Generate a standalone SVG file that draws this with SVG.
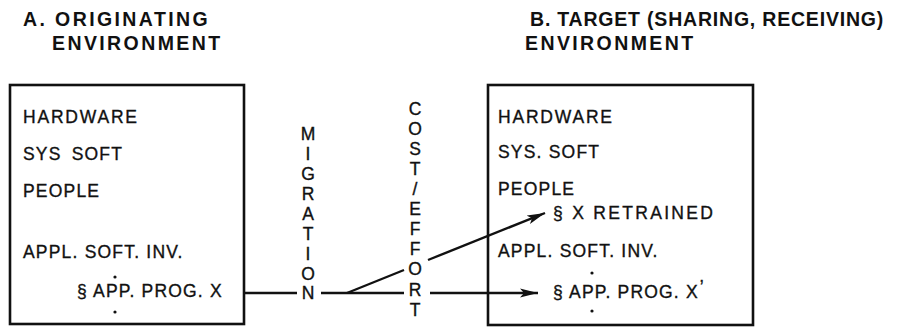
<svg xmlns="http://www.w3.org/2000/svg" width="911" height="328" viewBox="0 0 911 328">
<style>
  .title { font-family: "Liberation Sans", Arial, sans-serif; font-weight: bold; font-size: 19.5px; letter-spacing: 0.8px; fill: #111; }
  .wide { letter-spacing: 2.4px; }
  .body { font-family: "Liberation Sans", Arial, sans-serif; font-size: 17.5px; letter-spacing: 1.2px; fill: #111; stroke: #111; stroke-width: 0.35px; }
  .hw { letter-spacing: 1.8px; }
  .ret { letter-spacing: 2.3px; }
  .ws { word-spacing: 4px; }
  .vert { font-family: "Liberation Sans", Arial, sans-serif; font-size: 17.5px; fill: #111; stroke: #111; stroke-width: 0.35px; text-anchor: middle; }
  .box { fill: #fff; stroke: #111; stroke-width: 2.6; }
  .line { fill: none; stroke: #111; stroke-width: 2.4; }
  .dot { fill: #111; }
</style>
<defs>
  <marker id="arrow" markerUnits="userSpaceOnUse" markerWidth="20" markerHeight="12" refX="18" refY="5" orient="auto">
    <path d="M0,0.5 L18,5 L0,9.5 L4,5 Z" fill="#111"/>
  </marker>
</defs>
<rect width="911" height="328" fill="#fff"/>

<g id="title-a">
  <text class="title wide" x="23" y="26">A. ORIGINATING</text>
  <text class="title wide" x="52" y="50">ENVIRONMENT</text>
</g>
<g id="title-b">
  <text class="title" x="530" y="26">B. TARGET (SHARING, RECEIVING)</text>
  <text class="title wide" x="525" y="50">ENVIRONMENT</text>
</g>

<g id="originating">
  <rect class="box" x="10" y="85" width="234" height="239"/>
  <text class="body hw" x="23" y="123">HARDWARE</text>
  <text class="body ws" x="23" y="160">SYS SOFT</text>
  <text class="body" x="23" y="197">PEOPLE</text>
  <text class="body" x="23" y="258">APPL. SOFT. INV.</text>
  <circle class="dot" cx="115" cy="277" r="1.6"/>
  <text class="body" x="77" y="297">§ APP. PROG. X</text>
  <circle class="dot" cx="115" cy="312" r="1.6"/>
</g>

<g id="target">
  <rect class="box" x="488" y="85" width="265" height="240"/>
  <text class="body hw" x="498" y="123">HARDWARE</text>
  <text class="body" x="498" y="158">SYS. SOFT</text>
  <text class="body" x="498" y="195">PEOPLE</text>
  <text class="body ret" x="553" y="219">§ X RETRAINED</text>
  <text class="body" x="498" y="257">APPL. SOFT. INV.</text>
  <circle class="dot" cx="592" cy="273" r="1.6"/>
  <text class="body" x="553" y="298">§ APP. PROG. X<tspan dx="1" dy="-5">’</tspan></text>
  <circle class="dot" cx="592" cy="311" r="1.6"/>
</g>

<g id="migration-label">
  <text class="vert" x="308" y="140">M</text>
  <text class="vert" x="308" y="160">I</text>
  <text class="vert" x="308" y="180">G</text>
  <text class="vert" x="308" y="200">R</text>
  <text class="vert" x="308" y="220">A</text>
  <text class="vert" x="308" y="240">T</text>
  <text class="vert" x="308" y="260">I</text>
  <text class="vert" x="308" y="280">O</text>
  <text class="vert" x="308" y="299">N</text>
</g>

<g id="cost-label">
  <text class="vert" x="415" y="115">C</text>
  <text class="vert" x="415" y="135">O</text>
  <text class="vert" x="415" y="155">S</text>
  <text class="vert" x="415" y="175">T</text>
  <text class="vert" x="415" y="195">/</text>
  <text class="vert" x="415" y="215">E</text>
  <text class="vert" x="415" y="235">F</text>
  <text class="vert" x="415" y="255">F</text>
  <text class="vert" x="415" y="275">O</text>
  <text class="vert" x="415" y="296">R</text>
  <text class="vert" x="415" y="316">T</text>
</g>

<g id="connectors">
  <line class="line" x1="244" y1="293" x2="297" y2="293"/>
  <line class="line" x1="321" y1="293" x2="404" y2="293"/>
  <line class="line" x1="430" y1="293" x2="538" y2="293" marker-end="url(#arrow)"/>
  <line class="line" x1="347" y1="293" x2="404" y2="270"/>
  <line class="line" x1="428" y1="260" x2="545" y2="213" marker-end="url(#arrow)"/>
</g>
</svg>
